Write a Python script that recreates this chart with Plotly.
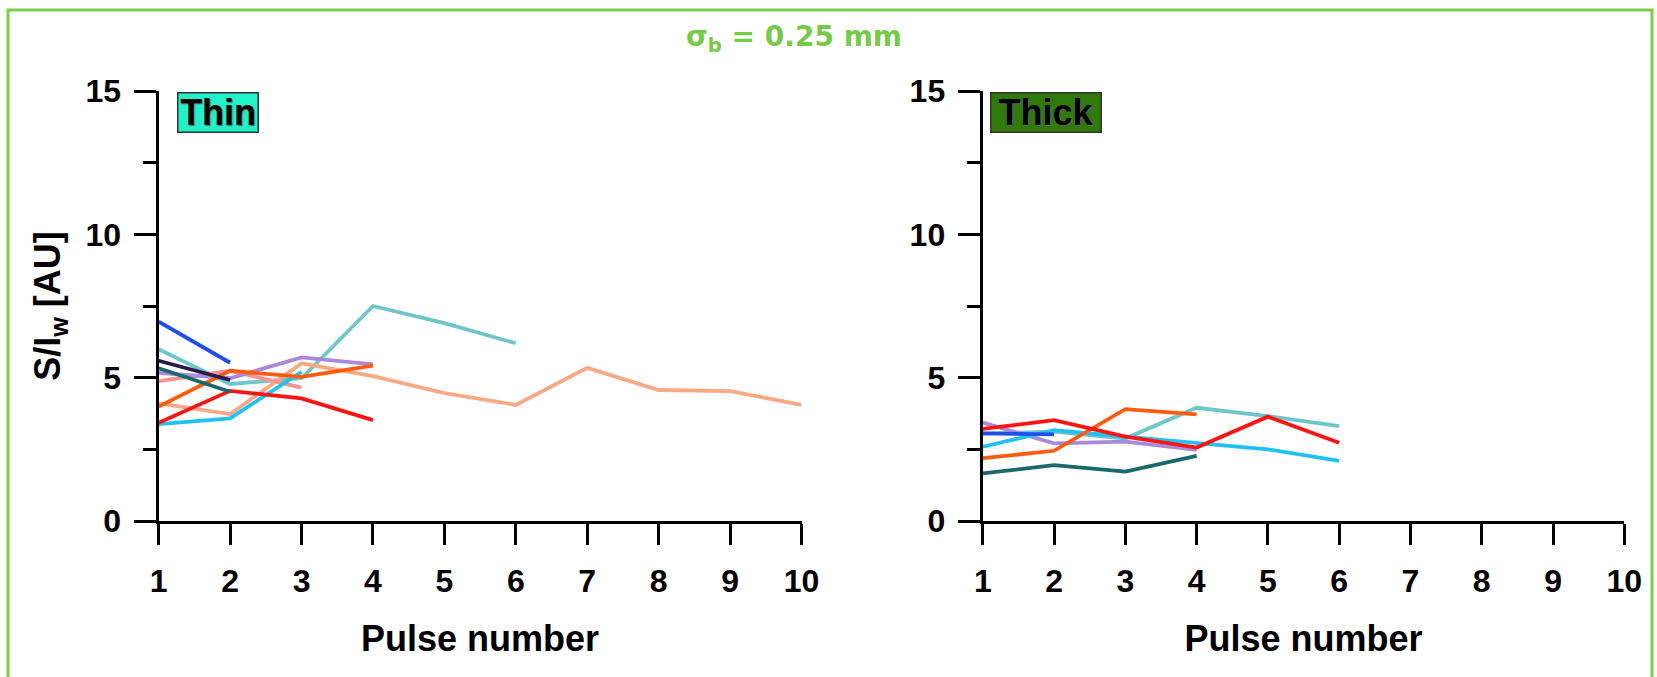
import plotly.graph_objects as go

W, H = 1657, 677

# Pulse index
pulses = [1, 2, 3, 4, 5, 6, 7, 8, 9, 10]

# Thin target: normalised signal S/I_w per pulse
thin_teal = [5.99, 4.78, 4.98, 7.50, 6.90, 6.20]
thin_salmon = [4.10, 3.73, 5.50, 5.05, 4.46, 4.05, 5.34, 4.57, 4.53, 4.05]
thin_pink = [4.88, 5.24, 4.65]
thin_lavender = [5.17, 4.98, 5.71, 5.46]
thin_sky = [3.38, 3.58, 5.20]
thin_red = [3.43, 4.54, 4.28, 3.52]
thin_orange = [3.99, 5.24, 5.03, 5.42]
thin_darkteal = [5.33, 4.51]
thin_navy = [5.59, 4.92]
thin_blue = [6.95, 5.52]

# Thick target
thick_teal = [3.05, 3.12, 2.88, 3.95, 3.66, 3.31]
thick_lavender = [3.43, 2.71, 2.77, 2.48]
thick_darkteal = [1.66, 1.95, 1.72, 2.27]
thick_sky = [2.59, 3.17, 2.94, 2.71, 2.50, 2.10]
thick_blue = [3.06, 3.02]
thick_orange = [2.19, 2.45, 3.90, 3.72]
thick_red = [3.21, 3.52, 2.94, 2.56, 3.64, 2.73]

COL = {
    "teal": "#6fc6c9",
    "salmon": "#f9a985",
    "pink": "#f49494",
    "lavender": "#a88ad9",
    "sky": "#22c1f4",
    "red": "#ff1414",
    "orange": "#ff5c12",
    "darkteal": "#19696b",
    "navy": "#2a1a50",
    "blue": "#1f4fe6",
}

thin = [
    ("teal", thin_teal), ("salmon", thin_salmon), ("pink", thin_pink),
    ("lavender", thin_lavender), ("sky", thin_sky), ("red", thin_red),
    ("orange", thin_orange), ("darkteal", thin_darkteal),
    ("navy", thin_navy), ("blue", thin_blue),
]
thick = [
    ("teal", thick_teal), ("lavender", thick_lavender),
    ("darkteal", thick_darkteal), ("sky", thick_sky), ("blue", thick_blue),
    ("orange", thick_orange), ("red", thick_red),
]

fig = go.Figure()
for name, vals in thin:
    fig.add_trace(go.Scatter(x=pulses[:len(vals)], y=vals, mode="lines",
                             line=dict(color=COL[name], width=3.8),
                             xaxis="x", yaxis="y", showlegend=False))
for name, vals in thick:
    fig.add_trace(go.Scatter(x=pulses[:len(vals)], y=vals, mode="lines",
                             line=dict(color=COL[name], width=3.8),
                             xaxis="x2", yaxis="y2", showlegend=False))

FONT = "Liberation Sans, Arial, sans-serif"
tickfont = dict(family=FONT, size=32, color="black", weight="bold")
titlefont = dict(family=FONT, size=36, color="black", weight="bold")


def px_x(p):
    return p / W


def px_y(p):
    return 1 - p / H


y_dom = [px_y(521), px_y(91)]

xcommon = dict(
    range=[1, 10], tickvals=pulses, ticktext=[str(p) for p in pulses],
    showline=True, linecolor="black", linewidth=3.4,
    ticks="outside", ticklen=21, tickwidth=3.4, tickcolor="black",
    tickfont=tickfont, showgrid=False, zeroline=False,
    ticklabelstandoff=8,
    title=dict(text="Pulse number", font=titlefont, standoff=29),
)
ycommon = dict(
    range=[0, 15], tickvals=[0, 5, 10, 15],
    showline=True, linecolor="black", linewidth=3.4,
    ticks="outside", ticklen=22, tickwidth=3.4, tickcolor="black",
    minor=dict(tickvals=[2.5, 7.5, 12.5], ticks="outside", ticklen=13,
               tickwidth=3.4, tickcolor="black"),
    tickfont=tickfont, showgrid=False, zeroline=False,
    ticklabelstandoff=6,
)

fig.update_layout(
    width=W, height=H, autosize=False,
    margin=dict(l=0, r=0, t=0, b=0, autoexpand=False),
    paper_bgcolor="white", plot_bgcolor="white",
    xaxis=dict(domain=[px_x(158.7), px_x(801.5)], anchor="y", **xcommon),
    yaxis=dict(domain=y_dom, anchor="x",
               title=dict(text="S/I<sub>w</sub> [AU]", font=titlefont, standoff=14),
               **ycommon),
    xaxis2=dict(domain=[px_x(982.8), px_x(1624.3)], anchor="y2", **xcommon),
    yaxis2=dict(domain=y_dom, anchor="x2", **ycommon),
)

# outer frame
fig.add_shape(type="rect", xref="paper", yref="paper",
              x0=px_x(8), x1=px_x(1652), y0=-0.05, y1=px_y(10),
              line=dict(color="#7ccd4b", width=3), fillcolor="rgba(0,0,0,0)")

# panel title
fig.add_annotation(xref="paper", yref="paper", x=px_x(794), y=px_y(38),
                   text="σ<sub>b</sub> = 0.25 mm", showarrow=False,
                   font=dict(family="DejaVu Sans, sans-serif", size=28,
                             color="#77c94a", weight="bold"),
                   xanchor="center", yanchor="middle")

# target labels
label_font = dict(family=FONT, size=36, color="black", weight="bold",
                  shadow="1px 1px 1px #666")
fig.add_annotation(xref="paper", yref="paper", x=px_x(177), y=px_y(92),
                   text="Thin", showarrow=False, font=label_font,
                   xanchor="left", yanchor="top", width=75, height=34,
                   align="center", valign="middle",
                   bgcolor="#22f0c8", bordercolor="#333333", borderwidth=1.5,
                   borderpad=2)
fig.add_annotation(xref="paper", yref="paper", x=px_x(990), y=px_y(92),
                   text="Thick", showarrow=False, font=label_font,
                   xanchor="left", yanchor="top", width=105, height=34,
                   align="center", valign="middle",
                   bgcolor="#2f7a0a", bordercolor="#333333", borderwidth=1.5,
                   borderpad=2)

fig.write_html("out.html", config={"responsive": False})
